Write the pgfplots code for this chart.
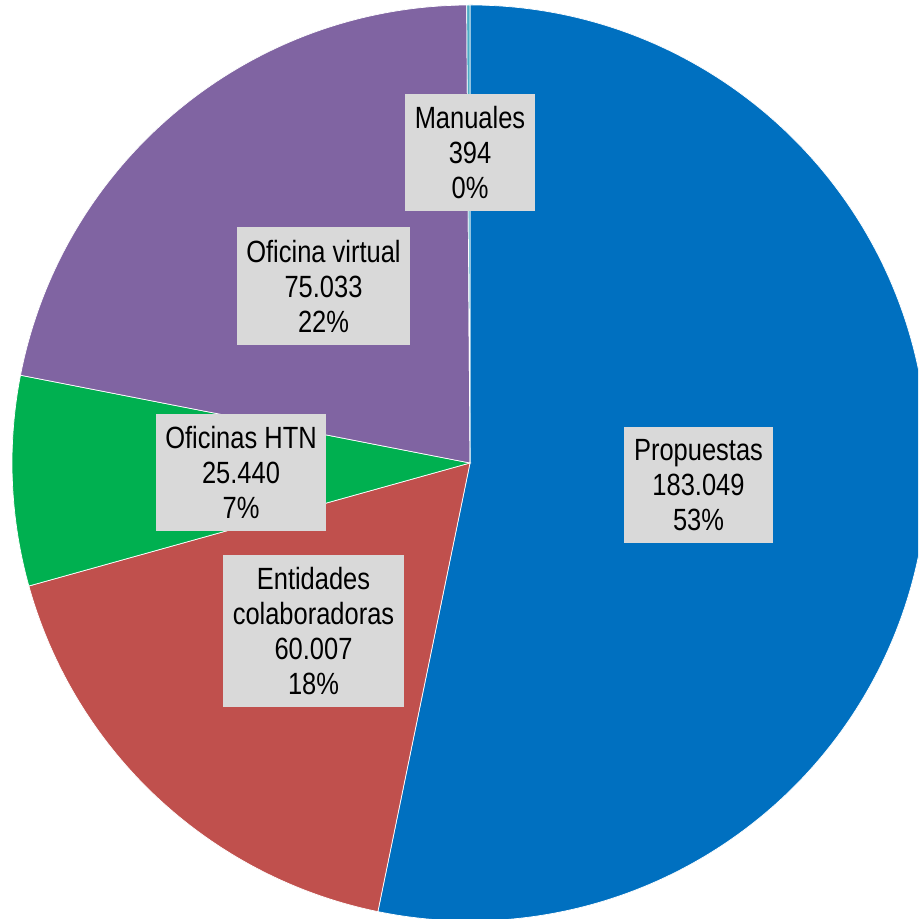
\documentclass[border=0pt]{standalone}
\usepackage{pgfplots}
\pgfplotsset{compat=1.18}
\usepackage{pgfplotstable}
\usepackage{fontspec}
\setmainfont{Liberation Sans}[FakeStretch=0.83]

\definecolor{cProp}{HTML}{0070C0}
\definecolor{cEnt}{HTML}{C0504D}
\definecolor{cHTN}{HTML}{00B050}
\definecolor{cVirt}{HTML}{8064A2}
\definecolor{cMan}{HTML}{4BACC6}
\definecolor{boxgray}{HTML}{D9D9D9}

% slices, clockwise from 12 o'clock
\pgfplotstableread{
value  color
183049 cProp
60007  cEnt
25440  cHTN
75033  cVirt
394    cMan
}\piedata

\begin{document}
\begin{tikzpicture}[
    lbl/.style={fill=boxgray, align=center, inner xsep=4.8pt, inner ysep=6.3pt,
        font=\fontsize{15.35}{17.5}\selectfont},
]
% cumulative angles
\def\total{0}
\pgfplotsforeachungrouped \i in {0,...,4}{%
  \pgfplotstablegetelem{\i}{value}\of\piedata
  \xdef\total{\fpeval{\total+\pgfplotsretval}}%
}
\def\acc{90}
\pgfplotsforeachungrouped \i in {0,...,4}{%
  \pgfplotstablegetelem{\i}{value}\of\piedata
  \expandafter\xdef\csname sA\i\endcsname{\acc}%
  \xdef\acc{\fpeval{\acc-360*\pgfplotsretval/\total}}%
  \expandafter\xdef\csname eA\i\endcsname{\acc}%
  \pgfplotstablegetelem{\i}{color}\of\piedata
  \expandafter\xdef\csname cW\i\endcsname{\pgfplotsretval}%
}
\def\R{229pt}
\begin{axis}[
    name=ax,
    scale only axis,
    width=459pt, height=459.5pt,
    xmin=0, xmax=918, ymin=0, ymax=919,
    hide axis,
    clip=true,
]
\pgfplotsinvokeforeach{0,...,4}{
  \edef\tmp{\noexpand\fill[fill=\csname cW#1\endcsname, draw=white, line width=0.35pt]
    (axis cs:470,456) -- ([shift={(\csname sA#1\endcsname:\R)}]axis cs:470,456)
    arc[start angle=\csname sA#1\endcsname, end angle=\csname eA#1\endcsname, radius=\R] -- cycle;}
  \tmp
}
\node[lbl] at (axis cs:698.5,434) {Propuestas\\183.049\\53\%};
\node[lbl] at (axis cs:313.5,288) {Entidades\\colaboradoras\\60.007\\18\%};
\node[lbl] at (axis cs:241,446.5) {Oficinas HTN\\25.440\\7\%};
\node[lbl] at (axis cs:323.5,633) {Oficina virtual\\75.033\\22\%};
\node[lbl] at (axis cs:470,766.5) {Manuales\\394\\0\%};
\end{axis}
\pgfresetboundingbox
\useasboundingbox (ax.south west) rectangle (ax.north east);
\end{tikzpicture}
\end{document}
